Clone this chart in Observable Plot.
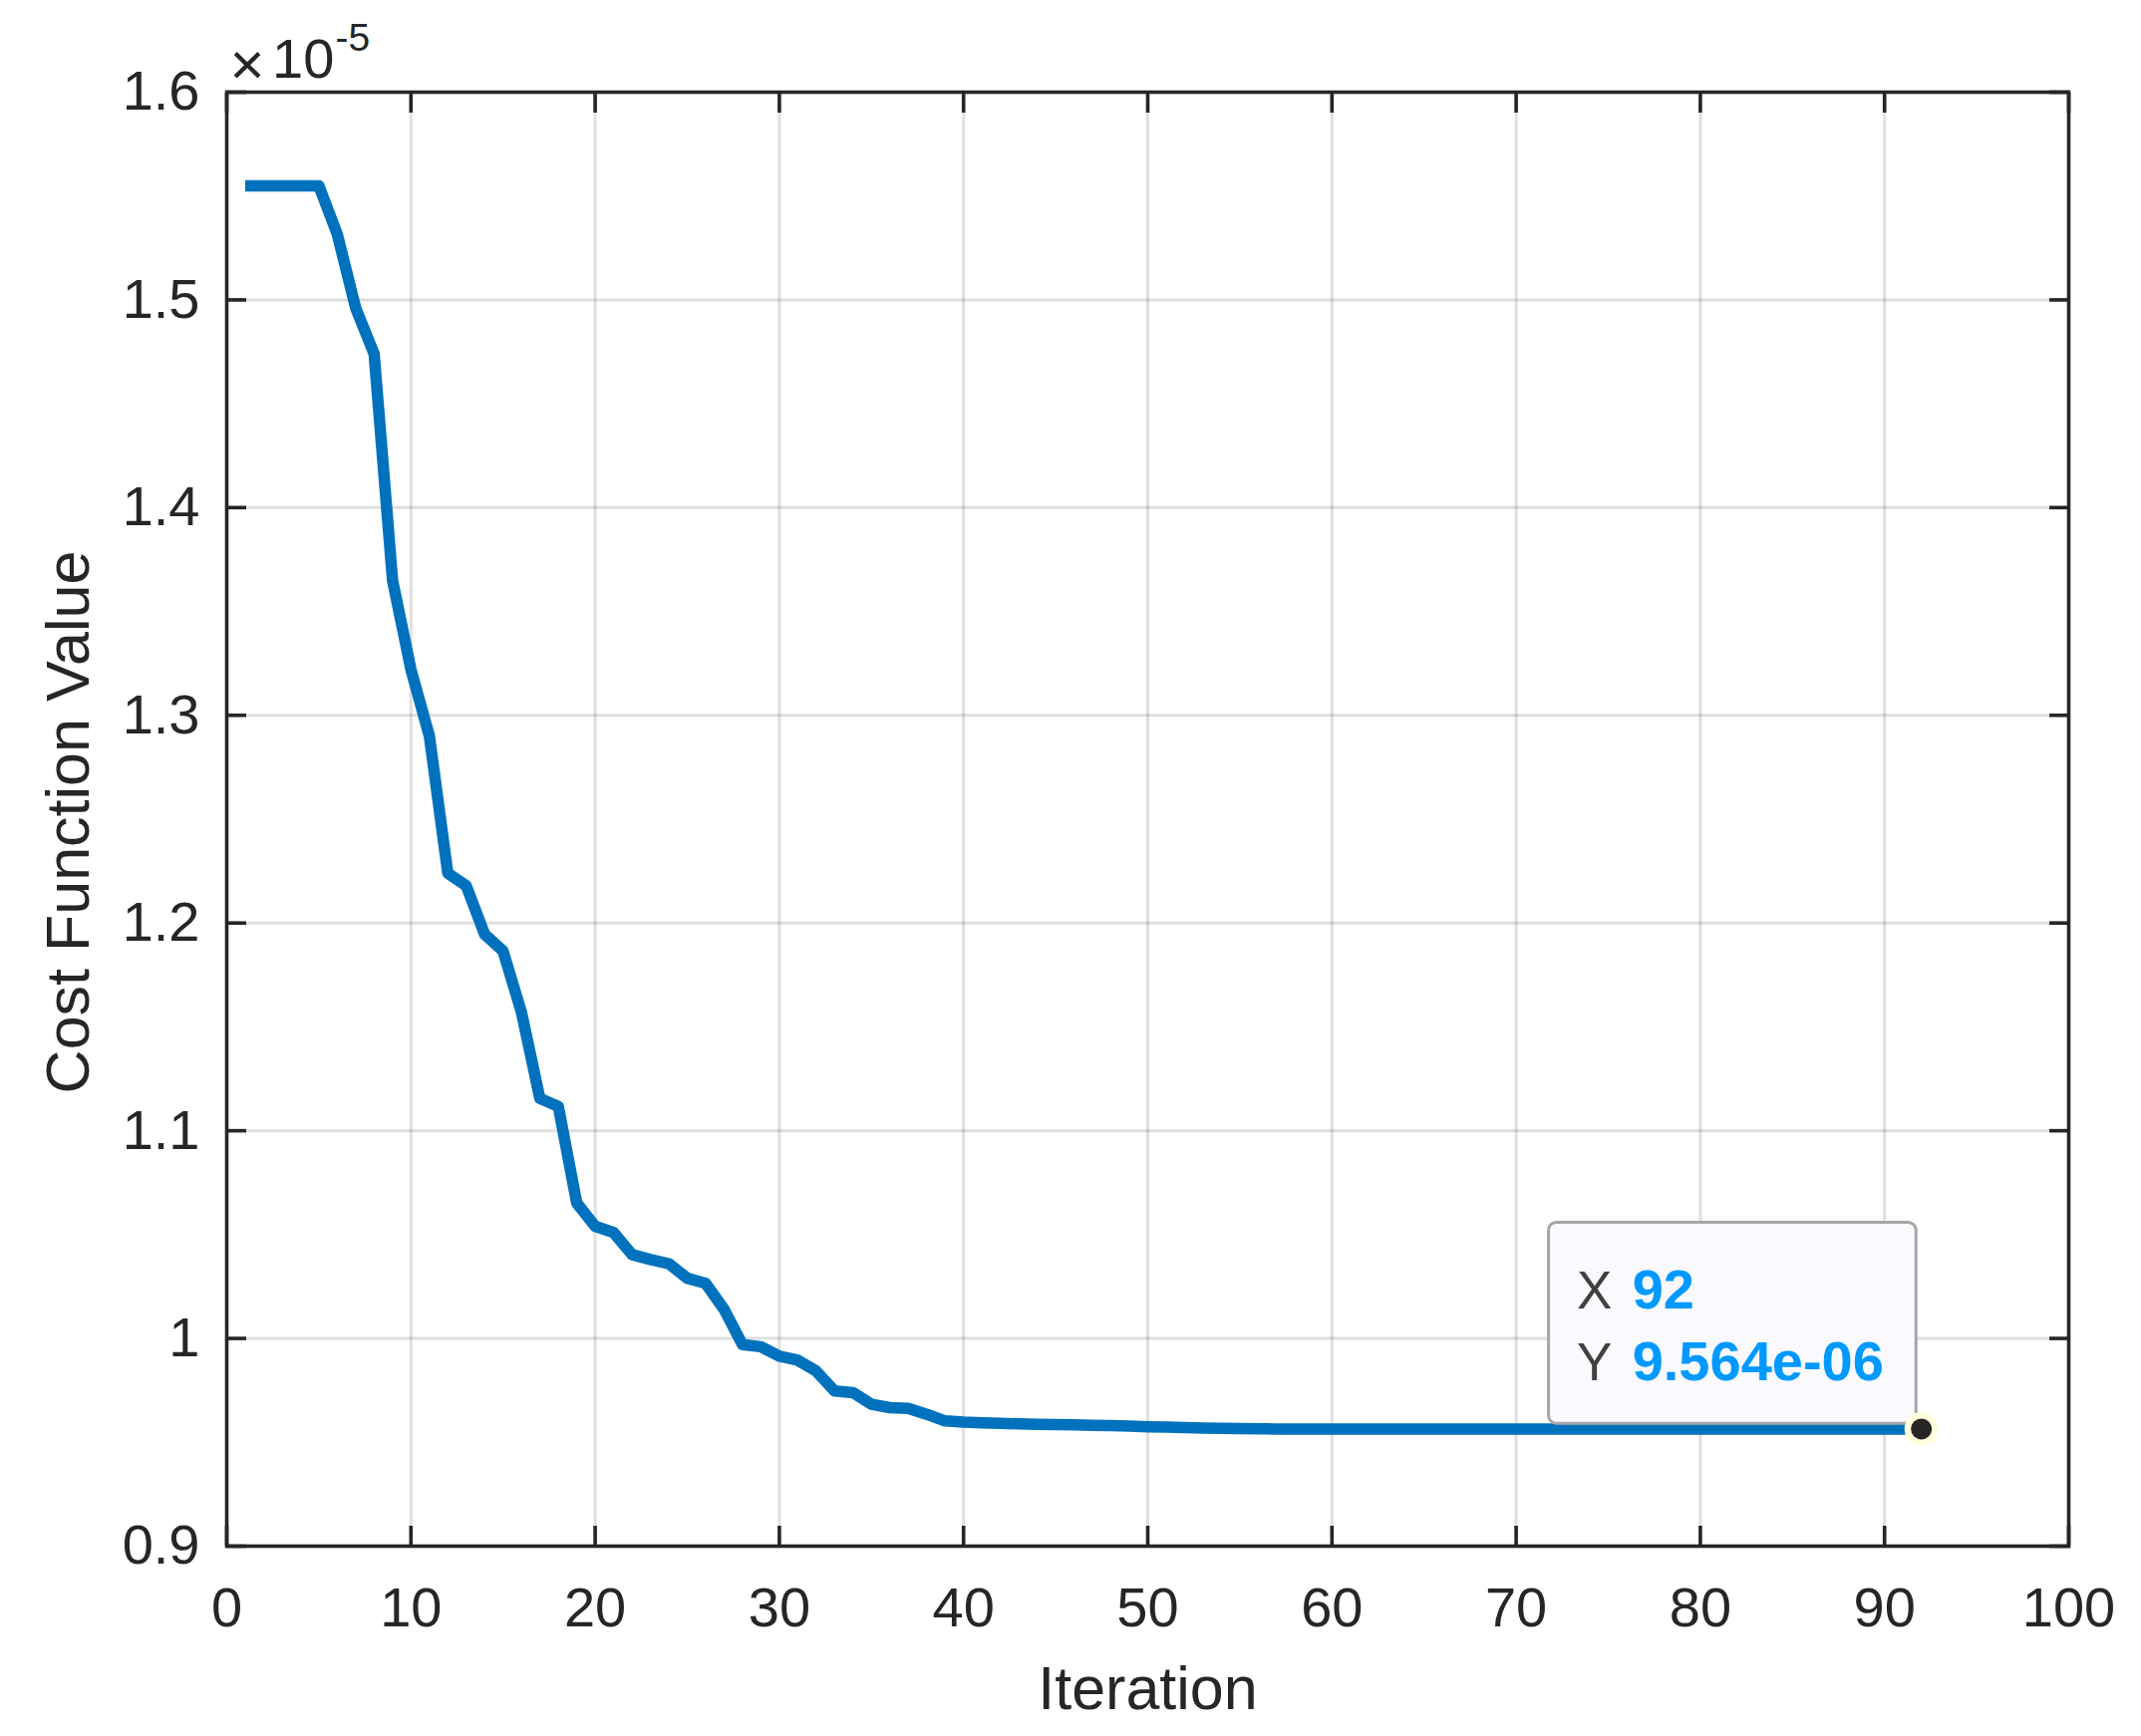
<!DOCTYPE html>
<html>
<head>
<meta charset="utf-8">
<script src="https://cdn.jsdelivr.net/npm/d3@7"></script>
<script src="https://cdn.jsdelivr.net/npm/@observablehq/plot@0.6"></script>
<style>
  html, body { margin: 0; padding: 0; background: #ffffff; }
  #chart { width: 2148px; height: 1742px; }
</style>
</head>
<body>
<div id="chart"></div>
<script>
// ---- data (cost values in units of 1e-5) ----
const iterations = [
  1, 2, 3, 4, 5, 6, 7, 8, 9, 10,
  11, 12, 13, 14, 15, 16, 17, 18, 19, 20,
  21, 22, 23, 24, 25, 26, 27, 28, 29, 30,
  31, 32, 33, 34, 35, 36, 37, 38, 39, 40,
  41, 42, 43, 44, 45, 46, 47, 48, 49, 50,
  51, 52, 53, 54, 55, 56, 57, 58, 59, 60,
  61, 62, 63, 64, 65, 66, 67, 68, 69, 70,
  71, 72, 73, 74, 75, 76, 77, 78, 79, 80,
  81, 82, 83, 84, 85, 86, 87, 88, 89, 90,
  91, 92
];
const costValues = [
  1.5549, 1.5549, 1.5549, 1.5549, 1.5549, 1.5316, 1.4961, 1.4740, 1.3650, 1.3220,
  1.2900, 1.2240, 1.2180, 1.1946, 1.1865, 1.1570, 1.1155, 1.1117, 1.0652, 1.0540,
  1.0510, 1.0404, 1.0380, 1.0360, 1.0290, 1.0265, 1.0140, 0.9970, 0.9960, 0.9915,
  0.9895, 0.9843, 0.9747, 0.9739, 0.9683, 0.9667, 0.9663, 0.9635, 0.9603, 0.9597,
  0.9594, 0.9591, 0.9589, 0.9587, 0.9585, 0.9584, 0.9582, 0.9580, 0.9578, 0.9575,
  0.9573, 0.9571, 0.9569, 0.9567, 0.9566, 0.9565, 0.9564, 0.9564, 0.9564, 0.9564,
  0.9564, 0.9564, 0.9564, 0.9564, 0.9564, 0.9564, 0.9564, 0.9564, 0.9564, 0.9564,
  0.9564, 0.9564, 0.9564, 0.9564, 0.9564, 0.9564, 0.9564, 0.9564, 0.9564, 0.9564,
  0.9564, 0.9564, 0.9564, 0.9564, 0.9564, 0.9564, 0.9564, 0.9564, 0.9564, 0.9564,
  0.9564, 0.9564
];
const xTicks = [0, 10, 20, 30, 40, 50, 60, 70, 80, 90, 100];
const yTicks = [0.9, 1.0, 1.1, 1.2, 1.3, 1.4, 1.5, 1.6];
const yTickLabels = ["0.9", "1", "1.1", "1.2", "1.3", "1.4", "1.5", "1.6"];
const xDomain = [0, 100];
const yDomain = [0.9, 1.6];
const exponentBase = "10";
const exponentPower = "-5";
const xTitle = "Iteration";
const yTitle = "Cost Function Value";
const tipPoint = [{x: 92, y: 0.9564}];
const tipXLabel = "92";
const tipYLabel = "9.564e-06";

// ---- build ----
const data = iterations.map((x, i) => ({x, y: costValues[i]}));
const font = "'Liberation Sans', Arial, Helvetica, sans-serif";
const ink = "#262626";
const tickW = 3.6;
const tickLen = 20;

const chart = Plot.plot({
  width: 2148,
  height: 1742,
  marginLeft: 227,
  marginRight: 73,
  marginTop: 92,
  marginBottom: 191,
  style: {fontFamily: font, fontSize: "56px", color: ink, background: "#ffffff", overflow: "visible"},
  x: {domain: xDomain},
  y: {domain: yDomain},
  marks: [
    Plot.gridX(xTicks, {stroke: ink, strokeOpacity: 0.15, strokeWidth: 3}),
    Plot.gridY(yTicks, {stroke: ink, strokeOpacity: 0.15, strokeWidth: 3}),
    Plot.line(data, {x: "x", y: "y", stroke: "#0072BD", strokeWidth: 11.5, strokeLinecap: "butt", strokeLinejoin: "round"}),
    Plot.frame({stroke: ink, strokeWidth: tickW}),
    // tick labels
    Plot.axisX(xTicks, {anchor: "bottom", tickSize: 0, tickPadding: 41, fontSize: 56, fill: ink, label: null}),
    Plot.axisY(yTicks, {anchor: "left", tickSize: 0, tickPadding: 27, fontSize: 56, fill: ink, label: null,
      tickFormat: d => yTickLabels[yTicks.findIndex(t => Math.abs(t - d) < 1e-9)]}),
    // inward ticks on all four sides
    Plot.axisX(xTicks, {anchor: "bottom", tickSize: tickLen, dy: -tickLen, fill: "none", stroke: ink, strokeWidth: tickW, label: null}),
    Plot.axisX(xTicks, {anchor: "top", tickSize: tickLen, dy: tickLen, fill: "none", stroke: ink, strokeWidth: tickW, label: null}),
    Plot.axisY(yTicks, {anchor: "left", tickSize: tickLen, dx: tickLen, fill: "none", stroke: ink, strokeWidth: tickW, label: null}),
    Plot.axisY(yTicks, {anchor: "right", tickSize: tickLen, dx: -tickLen, fill: "none", stroke: ink, strokeWidth: tickW, label: null}),
    // exponent label
    Plot.text(["\u00D7"], {frameAnchor: "top-left", text: d => d, textAnchor: "start", lineAnchor: "bottom", dx: 3, dy: -8, fontSize: 60, fill: ink}),
    Plot.text([exponentBase], {frameAnchor: "top-left", text: d => d, textAnchor: "start", lineAnchor: "bottom", dx: 45.5, dy: -15, fontSize: 56, fill: ink}),
    Plot.text([exponentPower], {frameAnchor: "top-left", text: d => d, textAnchor: "start", lineAnchor: "bottom", dx: 109, dy: -42, fontSize: 39, fill: ink}),
    // axis titles
    Plot.text([xTitle], {frameAnchor: "bottom", text: d => d, textAnchor: "middle", lineAnchor: "bottom", dy: 163, fontSize: 61, fill: ink}),
    Plot.text([yTitle], {frameAnchor: "left", text: d => d, rotate: -90, textAnchor: "middle", lineAnchor: "bottom", dx: -139, dy: 3, fontSize: 61, fill: ink}),
    // data tip
    Plot.rect(tipPoint, {x1: "x", x2: "x", y1: "y", y2: "y",
      insetLeft: -373.6, insetRight: 4.9, insetTop: -207, insetBottom: 5.1,
      fill: "#f9f9fe", stroke: "#a6a6a6", strokeWidth: 3, rx: 8}),
    Plot.dot(tipPoint, {x: "x", y: "y", r: 17, fill: "#ffffdc", stroke: "none"}),
    Plot.dot(tipPoint, {x: "x", y: "y", r: 10.5, fill: ink, stroke: "none"}),
    Plot.text(tipPoint, {x: "x", y: "y", text: () => "X", textAnchor: "start", lineAnchor: "bottom", dx: -345.6, dy: -121.4, fontSize: 53, fill: "#404040"}),
    Plot.text(tipPoint, {x: "x", y: "y", text: () => "Y", textAnchor: "start", lineAnchor: "bottom", dx: -345.6, dy: -49.1, fontSize: 53, fill: "#404040"}),
    Plot.text(tipPoint, {x: "x", y: "y", text: () => tipXLabel, textAnchor: "start", lineAnchor: "bottom", dx: -290, dy: -121.4, fontSize: 56, fontWeight: "bold", fill: "#0099FF"}),
    Plot.text(tipPoint, {x: "x", y: "y", text: () => tipYLabel, textAnchor: "start", lineAnchor: "bottom", dx: -290, dy: -49.1, fontSize: 56, fontWeight: "bold", fill: "#0099FF"})
  ]
});
document.getElementById("chart").appendChild(chart);
</script>
</body>
</html>
